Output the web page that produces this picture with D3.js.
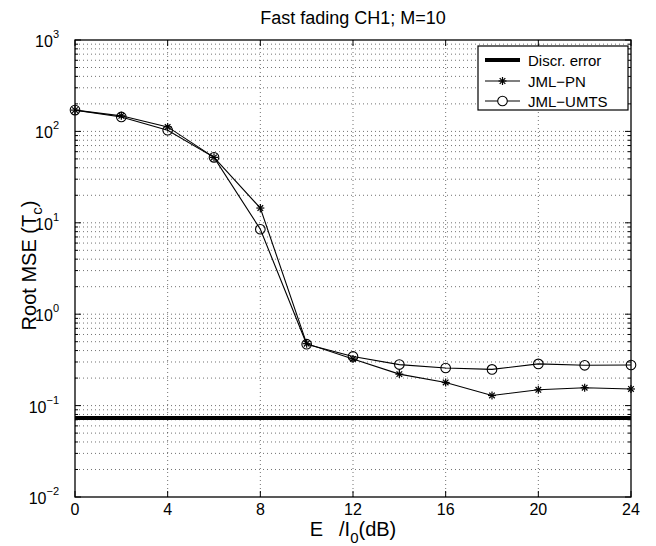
<!DOCTYPE html>
<html><head><meta charset="utf-8">
<script src="https://cdn.jsdelivr.net/npm/d3@7"></script>
<style>body{margin:0;background:#fff}svg{display:block;font-family:"Liberation Sans",Arial,sans-serif}</style>
</head><body><svg id="c" width="656" height="546"></svg>
<script>
const snr = [0,2,4,6,8,10,12,14,16,18,20,22,24];
const jmlPN = [171,148,112,52,14.5,0.476,0.324,0.221,0.179,0.129,0.149,0.157,0.152];
const jmlUMTS = [171,144,103,52,8.5,0.47,0.345,0.281,0.258,0.249,0.286,0.276,0.278];
const discrError = 0.073;
const xTicks = [0,4,8,12,16,20,24];
const yExponents = [-2,-1,0,1,2,3];
const legendLabels = ["Discr. error","JML\u2212PN","JML\u2212UMTS"];
const titleText = "Fast fading CH1; M=10";

const svg = d3.select("#c");
const L=75,R=631,T=40,B=497;
const x = d3.scaleLinear().domain([0,24]).range([L,R]);
const y = d3.scaleLog().domain([1e-2,1e3]).range([B,T]);

// grid
const g = svg.append("g");
const minorVals=[];
for(let e=-2;e<3;e++) for(let m=1;m<10;m++) minorVals.push(m*Math.pow(10,e));
minorVals.push(1000);
g.selectAll(".hg").data(minorVals.filter(v=>v>1e-2&&v<1e3)).join("line")
 .attr("x1",L).attr("x2",R).attr("y1",d=>y(d)).attr("y2",d=>y(d))
 .attr("stroke","#000").attr("stroke-width",1).attr("stroke-dasharray","1,3").attr("opacity",0.55);
g.selectAll(".vg").data(xTicks.slice(1,-1)).join("line")
 .attr("y1",T).attr("y2",B).attr("x1",d=>x(d)).attr("x2",d=>x(d))
 .attr("stroke","#000").attr("stroke-width",1).attr("stroke-dasharray","1,3").attr("opacity",0.55);

// ticks (inside)
const tk = svg.append("g").attr("stroke","#000").attr("stroke-width",1);
minorVals.forEach(v=>{
  const isMaj = Math.abs(Math.log10(v)-Math.round(Math.log10(v)))<1e-9;
  const len = isMaj?6:3;
  tk.append("line").attr("x1",L).attr("x2",L+len).attr("y1",y(v)).attr("y2",y(v));
  tk.append("line").attr("x1",R).attr("x2",R-len).attr("y1",y(v)).attr("y2",y(v));
});
xTicks.forEach(v=>{
  tk.append("line").attr("x1",x(v)).attr("x2",x(v)).attr("y1",B).attr("y2",B-6);
  tk.append("line").attr("x1",x(v)).attr("x2",x(v)).attr("y1",T).attr("y2",T+6);
});

// axes box
svg.append("rect").attr("x",L).attr("y",T).attr("width",R-L).attr("height",B-T)
 .attr("fill","none").attr("stroke","#000").attr("stroke-width",1.3);

// x tick labels
svg.selectAll(".xt").data(xTicks).join("text").attr("x",d=>x(d)).attr("y",B+18)
 .attr("text-anchor","middle").attr("font-size",16).text(d=>d);
// y tick labels
const yl = svg.selectAll(".yt").data(yExponents).join("text")
 .attr("x",L-16).attr("y",d=>y(Math.pow(10,d))+7).attr("text-anchor","end").attr("font-size",16);
yl.append("tspan").text("10");
yl.append("tspan").attr("dy",-9).attr("font-size",11).text(d=>d<0?"\u2212"+(-d):d);

// title
svg.append("text").attr("x",(L+R)/2).attr("y",24).attr("text-anchor","middle").attr("font-size",18).text(titleText);
// x label
const xl = svg.append("text").attr("x",(L+R)/2).attr("y",536).attr("text-anchor","middle").attr("font-size",20);
xl.append("tspan").text("E");
xl.append("tspan").attr("dx",16).text("/I");
xl.append("tspan").attr("dy",7).attr("font-size",15).text("0");
xl.append("tspan").attr("dy",-7).text("(dB)");
// y label
const ylab = svg.append("text").attr("transform",`translate(36,${(T+B)/2 - 3}) rotate(-90)`).attr("text-anchor","middle").attr("font-size",20);
ylab.append("tspan").text("Root MSE (T");
ylab.append("tspan").attr("dy",6).attr("font-size",15).text("c");
ylab.append("tspan").attr("dy",-6).text(")");

// discr error line
svg.append("line").attr("x1",x(0)).attr("x2",x(24)).attr("y1",y(discrError)).attr("y2",y(discrError))
 .attr("stroke","#000").attr("stroke-width",4);

const line = d3.line().x((d,i)=>x(snr[i])).y(d=>y(d));
svg.append("path").datum(jmlPN).attr("d",line).attr("fill","none").attr("stroke","#000").attr("stroke-width",1.1);
svg.append("path").datum(jmlUMTS).attr("d",line).attr("fill","none").attr("stroke","#000").attr("stroke-width",1.1);

function star(sel,cx,cy,r){
  const gg=sel.append("g").attr("stroke","#000").attr("stroke-width",1.2);
  gg.append("line").attr("x1",cx-r).attr("x2",cx+r).attr("y1",cy).attr("y2",cy);
  gg.append("line").attr("x1",cx).attr("x2",cx).attr("y1",cy-r).attr("y2",cy+r);
  const k=r*0.7;
  gg.append("line").attr("x1",cx-k).attr("x2",cx+k).attr("y1",cy-k).attr("y2",cy+k);
  gg.append("line").attr("x1",cx-k).attr("x2",cx+k).attr("y1",cy+k).attr("y2",cy-k);
}
jmlPN.forEach((v,i)=>star(svg,x(snr[i]),y(v),4));
svg.selectAll(".circ").data(jmlUMTS).join("circle").attr("cx",(d,i)=>x(snr[i])).attr("cy",d=>y(d))
 .attr("r",4.8).attr("fill","none").attr("stroke","#000").attr("stroke-width",1.1);

// legend
const lg = svg.append("g");
lg.append("rect").attr("x",478).attr("y",46).attr("width",150).attr("height",64).attr("fill","#fff").attr("stroke","#000").attr("stroke-width",1.2);
const ly=[60,81,101];
lg.append("line").attr("x1",485).attr("x2",520).attr("y1",ly[0]).attr("y2",ly[0]).attr("stroke","#000").attr("stroke-width",4);
lg.append("line").attr("x1",485).attr("x2",520).attr("y1",ly[1]).attr("y2",ly[1]).attr("stroke","#000").attr("stroke-width",1.1);
star(lg,502.5,ly[1],4);
lg.append("line").attr("x1",485).attr("x2",520).attr("y1",ly[2]).attr("y2",ly[2]).attr("stroke","#000").attr("stroke-width",1.1);
lg.append("circle").attr("cx",502.5).attr("cy",ly[2]).attr("r",4.8).attr("fill","#fff").attr("stroke","#000").attr("stroke-width",1.1);
legendLabels.forEach((t,i)=>lg.append("text").attr("x",528).attr("y",ly[i]+5.5).attr("font-size",15).text(t));
</script></body></html>
